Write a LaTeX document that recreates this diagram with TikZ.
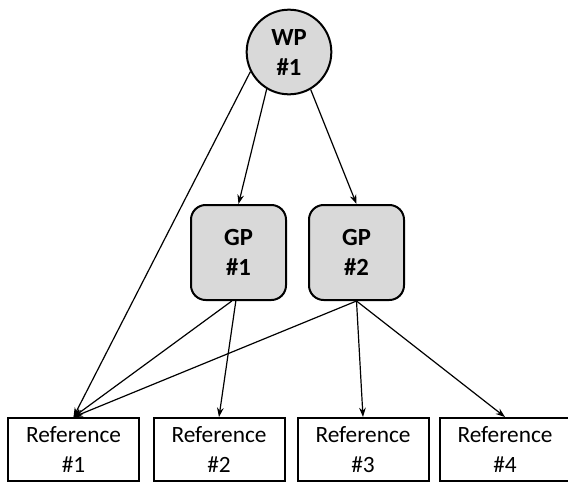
\documentclass[tikz,border=0pt]{standalone}
\usepackage{fontspec}
\setmainfont{Carlito}
\usetikzlibrary{arrows.meta}
\definecolor{boxgray}{HTML}{D9D9D9}
\begin{document}
\begin{tikzpicture}[x=.75pt, y=-.75pt, line width=1.5pt,
	wpnode/.style={circle, draw, fill=boxgray, minimum size=63.5pt, inner sep=0pt, align=center, font=\fontsize{18.5}{22.5}\selectfont\bfseries},
	gpnode/.style={rectangle, rounded corners=11pt, draw, fill=boxgray, minimum size=71.25pt, inner sep=0pt, align=center, font=\fontsize{18.5}{22.5}\selectfont\bfseries},
	refnode/.style={rectangle, draw, minimum width=98.25pt, minimum height=47.25pt, inner sep=0pt, align=center, font=\fontsize{17.5}{22}\selectfont},
	link/.style={line width=.9pt, -{Stealth[length=7pt, width=5pt]}}]
	\useasboundingbox (0,0) rectangle (568,483);
	\node[wpnode]  (wp)   at (289,52)      {WP\\\#1};
	\node[gpnode]  (gp1)  at (238.5,252.5) {GP\\\#1};
	\node[gpnode]  (gp2)  at (356.5,252.5) {GP\\\#2};
	\node[refnode] (ref1) at (73.5,449.5)  {Reference\\\#1};
	\node[refnode] (ref2) at (219,449.5)   {Reference\\\#2};
	\node[refnode] (ref3) at (363,449.5)   {Reference\\\#3};
	\node[refnode] (ref4) at (505,449.5)   {Reference\\\#4};
	% from WP
	\draw[link] (wp.239) -- (gp1.north);
	\draw[link] (wp.300) -- (gp2.north);
	\draw[link] (wp.207) -- (ref1.north);
	% from GP
	\draw[link] ([xshift=-5pt]gp1.south) -- (ref1.north);
	\draw[link] ([xshift=-2pt]gp1.south) -- (ref2.north);
	\draw[link] (gp2.south) -- (ref1.north);
	\draw[link] (gp2.south) -- (ref3.north);
	\draw[link] (gp2.south) -- (ref4.north);
\end{tikzpicture}
\end{document}
